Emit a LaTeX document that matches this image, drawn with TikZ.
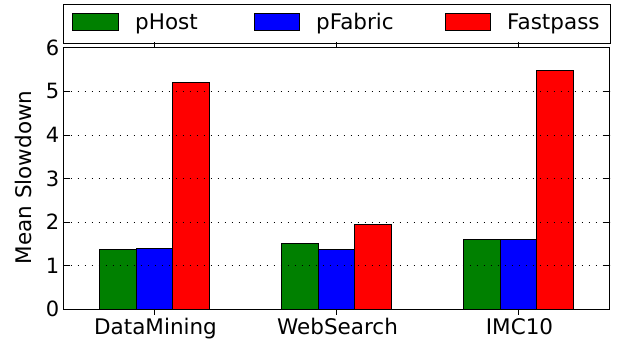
\documentclass[tikz,border=0pt]{standalone}
\usepackage{fontspec}
\setmainfont{DejaVu Sans}
\begin{document}
\begin{tikzpicture}[x=1pt,y=-1pt,
  lbl/.style={inner sep=0pt,font=\fontsize{21.5}{24}\selectfont},
  ticklbl/.style={inner sep=0pt,anchor=east,font=\fontsize{21}{24}\selectfont},
  bar/.style={draw=black,line width=0.9pt},
  gridline/.style={black,line width=0.8pt,dash pattern=on 1.4pt off 5.6pt},
  tickmark/.style={black,line width=0.8pt},
  frame/.style={draw=black,line width=1pt}]
\useasboundingbox (0,0) rectangle (621,341);
\fill[white] (0,0) rectangle (621,341);

% data area: x in groups, y in slowdown units
\begin{scope}[shift={(63.5,309.3)},x=182pt,y=43.6pt]
  \coordinate (ll) at (0,0);
  \coordinate (ur) at (3,6);
  % bars: pHost, pFabric, Fastpass
  \foreach \g/\a/\b/\c in {0/1.38/1.39/5.20, 1/1.50/1.37/1.95, 2/1.60/1.60/5.47}{
    \filldraw[bar,fill={rgb,255:red,0;green,128;blue,0}] (\g+0.2,0) rectangle (\g+0.4,\a);
    \filldraw[bar,fill=blue] (\g+0.4,0) rectangle (\g+0.6,\b);
    \filldraw[bar,fill=red] (\g+0.6,0) rectangle (\g+0.8,\c);
  }
  % horizontal grid
  \foreach \v in {1,...,5}
    \draw[gridline] (0,\v) -- (3,\v);
  % y ticks on both sides
  \foreach \v in {1,...,5}{
    \draw[tickmark] (0,\v) -- ++(6pt,0);
    \draw[tickmark] (3,\v) -- ++(-6pt,0);
  }
  % x ticks at group centres, top and bottom
  \foreach \g in {0,1,2}{
    \draw[tickmark] (\g+0.5,0) -- ++(0,-6pt);
    \draw[tickmark] (\g+0.5,6) -- ++(0,6pt);
  }
  % y tick labels
  \foreach \v in {0,...,6}
    \node[ticklbl] (yt\v) at ([xshift=-4pt]0,\v) {\v};
\end{scope}

\draw[frame] (ll) rectangle (ur);

% category labels
\node[lbl,anchor=base] (cat1) at (155.5,334) {DataMining};
\node[lbl,anchor=base] (cat2) at (337.5,334) {WebSearch};
\node[lbl,anchor=base] (cat3) at (519.5,334) {IMC10};

% axis title
\node[lbl,rotate=90,anchor=center] (ytitle) at (23.3,177.5) {Mean Slowdown};

% legend
\draw[frame] (63.3,4) rectangle (610.7,43.3);
\filldraw[bar,fill={rgb,255:red,0;green,128;blue,0}] (72.3,13.3) rectangle (118,30);
\node[lbl,anchor=base west] (leg1) at (135,29) {pHost};
\filldraw[bar,fill=blue] (254,13.3) rectangle (299.7,30);
\node[lbl,anchor=base west] (leg2) at (316,29) {pFabric};
\filldraw[bar,fill=red] (445,13.3) rectangle (490.7,30);
\node[lbl,anchor=base west] (leg3) at (507,29) {Fastpass};
\end{tikzpicture}
\end{document}
